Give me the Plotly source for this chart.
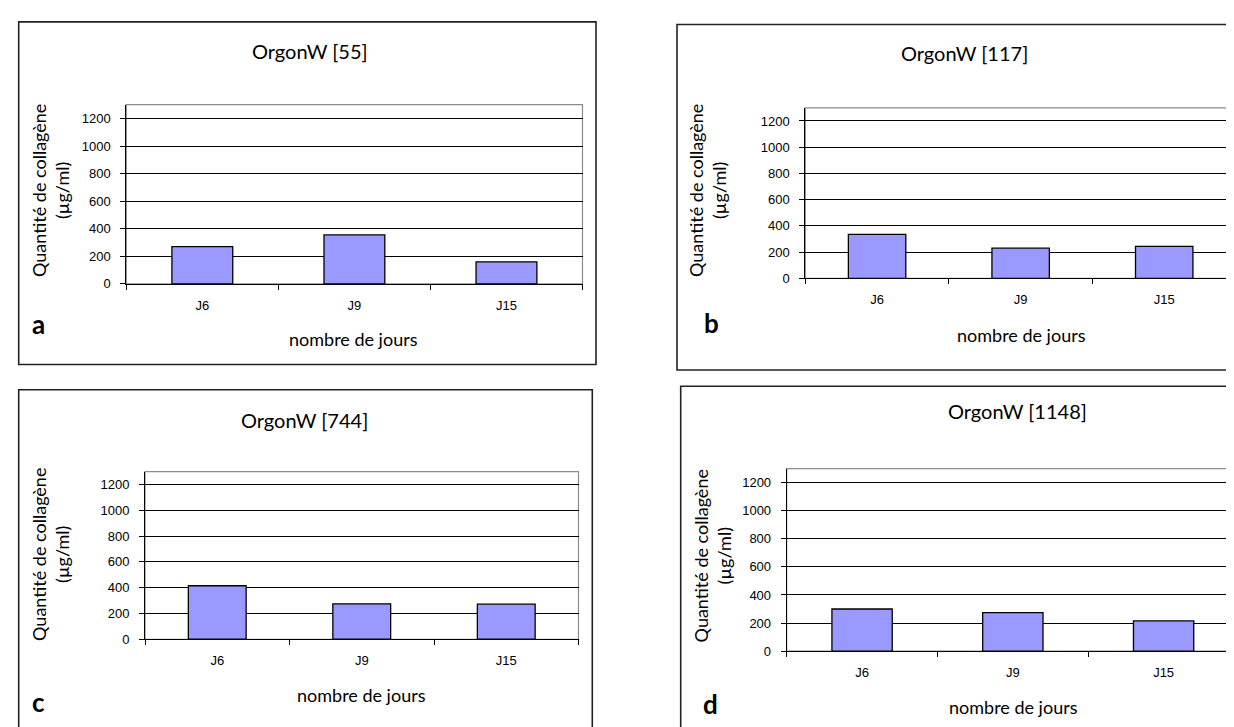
import plotly.graph_objects as go

W, H = 1234, 727

categories = ["J6", "J9", "J15"]
values_55 = [270, 355, 160]
values_117 = [335, 230, 243]
values_744 = [415, 275, 272]
values_1148 = [300, 275, 215]
titles = ["OrgonW [55]", "OrgonW [117]", "OrgonW [744]", "OrgonW [1148]"]
letters = ["a", "b", "c", "d"]
y_ticks = [0, 200, 400, 600, 800, 1000, 1200]
x_title = "nombre de jours"
y_title = "Quantité de collagène<br>(µg/ml)"

series = [values_55, values_117, values_744, values_1148]

# layout geometry (pixels)
plots = [  # left, right, top, bottom
    (118.3, 574.5, 97.7, 279.0),
    (797.3, 1228.0, 101.0, 273.3),
    (137.0, 570.5, 468.7, 638.3),
    (778.7, 1231.0, 465.7, 650.3),
]
boxes = [
    (10.7, 588.0, 14.0, 360.5),
    (669.0, 1245.0, 16.7, 366.0),
    (10.7, 584.3, 386.0, 745.0),
    (672.7, 1245.0, 382.5, 745.0),
]
title_pos = [(302, 43), (956, 45), (296, 417), (1009, 407)]
xtitle_pos = [(345.4, 335), (1013, 331), (354, 695), (1005, 707)]
ytitle_pos = [(42.5, 184.5), (700, 185), (43, 553), (704, 554.5)]
letter_pos = [(21.7, 320), (693.5, 319), (21.8, 702), (693, 704)]

def px(x):
    return x / W

def py(y):
    return 1 - y / H

fig = go.Figure()
layout = dict(width=W, height=H, margin=dict(l=0, r=0, t=0, b=0),
              paper_bgcolor="white", plot_bgcolor="white", showlegend=False,
              bargap=0.6)
shapes = []
annotations = []

TITLE_FONT = "Lato, 'Open Sans', sans-serif"
TICK_FONT = "'Liberation Sans', Arial, sans-serif"

for i in range(4):
    n = "" if i == 0 else str(i + 1)
    xa, ya = "x" + n, "y" + n
    fig.add_trace(go.Bar(x=categories, y=series[i], xaxis=xa, yaxis=ya,
                         marker=dict(color="#9999FF", line=dict(color="black", width=1.3)),
                         width=0.4, hoverinfo="x+y"))
    l, r, t, b = plots[i]
    layout["xaxis" + n] = dict(
        domain=[px(l), px(r)], anchor=ya, type="category",
        categoryorder="array", categoryarray=categories,
        showgrid=False, zeroline=False, showline=True, linecolor="black", linewidth=1,
        ticks="outside", ticklen=5, tickcolor="black", tickwidth=1, tickson="boundaries",
        tickfont=dict(family=TICK_FONT, size=13, color="black"), ticklabelstandoff=9,
        fixedrange=True)
    layout["yaxis" + n] = dict(
        domain=[py(b), py(t)], anchor=xa, range=[0, 1300],
        tickmode="array", tickvals=y_ticks, ticktext=[str(v) for v in y_ticks],
        showgrid=True, gridcolor="black", gridwidth=1, zeroline=False,
        showline=True, linecolor="black", linewidth=1,
        ticks="outside", ticklen=5, tickcolor="black", tickwidth=1,
        tickfont=dict(family=TICK_FONT, size=13, color="black"), ticklabelstandoff=7,
        fixedrange=True)
    # gray plot-area frame
    shapes.append(dict(type="rect", xref="paper", yref="paper",
                       x0=px(l), x1=px(r), y0=py(b), y1=py(t),
                       line=dict(color="#8c8c8c", width=1.2), layer="below"))
    # outer box
    bl, br, bt, bb = boxes[i]
    shapes.append(dict(type="rect", xref="paper", yref="paper",
                       x0=px(bl), x1=px(br), y0=py(bb), y1=py(bt),
                       line=dict(color="#222222", width=1.6), layer="above"))
    tx, ty = title_pos[i]
    annotations.append(dict(text=titles[i], x=px(tx), y=py(ty), xref="paper", yref="paper",
                            showarrow=False, xanchor="center", yanchor="middle",
                            font=dict(family=TITLE_FONT, size=20, color="black")))
    tx, ty = xtitle_pos[i]
    annotations.append(dict(text=x_title, x=px(tx), y=py(ty), xref="paper", yref="paper",
                            showarrow=False, xanchor="center", yanchor="middle",
                            font=dict(family=TITLE_FONT, size=18, color="black")))
    tx, ty = ytitle_pos[i]
    annotations.append(dict(text=y_title, x=px(tx), y=py(ty), xref="paper", yref="paper",
                            showarrow=False, xanchor="center", yanchor="middle", textangle=-90,
                            font=dict(family=TITLE_FONT, size=18, color="black")))
    tx, ty = letter_pos[i]
    annotations.append(dict(text="<b>" + letters[i] + "</b>", x=px(tx), y=py(ty),
                            xref="paper", yref="paper",
                            showarrow=False, xanchor="left", yanchor="middle",
                            font=dict(family=TITLE_FONT, size=26, color="black")))

layout["shapes"] = shapes
layout["annotations"] = annotations
fig.update_layout(**layout)
fig.write_html("out.html")
